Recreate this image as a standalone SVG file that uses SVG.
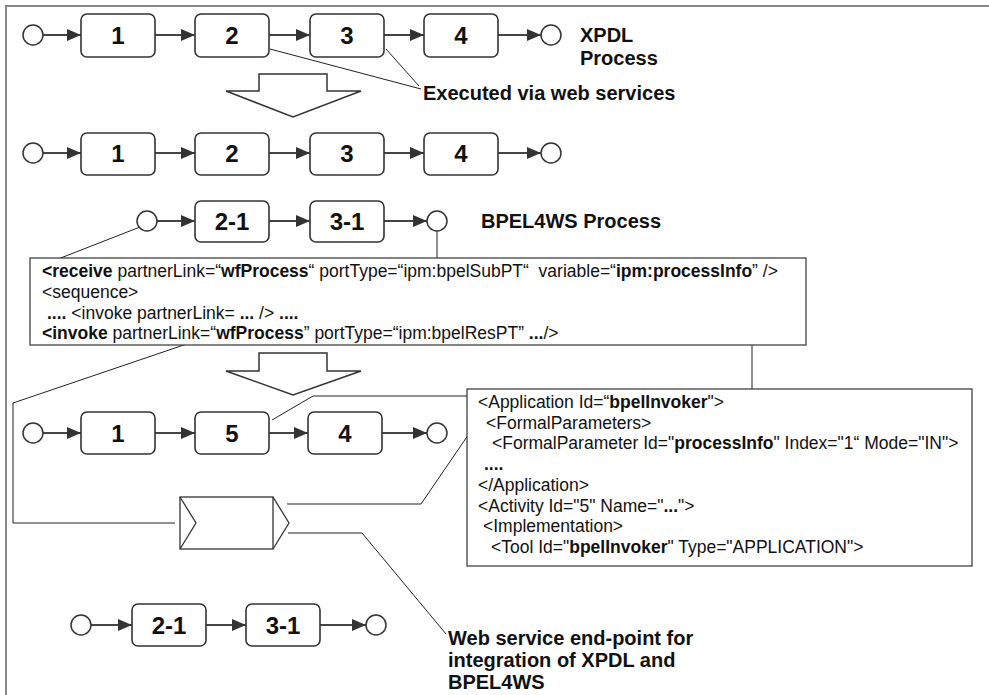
<svg xmlns="http://www.w3.org/2000/svg" width="989" height="695" viewBox="0 0 989 695">
<style>
.box{fill:#fff;stroke:#333;stroke-width:1.6}
.circ{fill:#fff;stroke:#333;stroke-width:1.5}
.flow{stroke:#444;stroke-width:2.2;fill:none}
.call{stroke:#222;stroke-width:1;fill:none}
.hollow{fill:#fff;stroke:#333;stroke-width:1.5}
.lbl{font-family:"Liberation Sans",Arial,sans-serif;font-weight:bold;font-size:24px;fill:#111;text-anchor:middle}
.head{font-family:"Liberation Sans",Arial,sans-serif;font-weight:bold;font-size:20px;fill:#111}
.code{font-family:"Liberation Sans",Arial,sans-serif;font-size:17.5px;fill:#111;white-space:pre}
.b{font-weight:bold}
.frame{stroke:#888;stroke-width:2;fill:none}
.cbox{fill:#fff;stroke:#333;stroke-width:1.2}
</style>
<defs>
<marker id="ah" viewBox="0 0 14 12" refX="14" refY="6" markerWidth="14" markerHeight="12" markerUnits="userSpaceOnUse" orient="auto">
<path d="M0,0 L14,6 L0,12 z" fill="#333"/>
</marker>
</defs>
<rect width="989" height="695" fill="#fff"/>
<path class="frame" d="M989,6 H6 V695"/>

<g id="connectors">
<path class="flow" marker-end="url(#ah)" d="M43,35 H81"/>
<path class="flow" marker-end="url(#ah)" d="M155,35 H195"/>
<path class="flow" marker-end="url(#ah)" d="M269,35 H310"/>
<path class="flow" marker-end="url(#ah)" d="M384,35 H424"/>
<path class="flow" marker-end="url(#ah)" d="M498,35 H541"/>
<path class="flow" marker-end="url(#ah)" d="M43,153 H81"/>
<path class="flow" marker-end="url(#ah)" d="M155,153 H195"/>
<path class="flow" marker-end="url(#ah)" d="M269,153 H310"/>
<path class="flow" marker-end="url(#ah)" d="M384,153 H424"/>
<path class="flow" marker-end="url(#ah)" d="M498,153 H541"/>
<path class="flow" marker-end="url(#ah)" d="M157,221 H195"/>
<path class="flow" marker-end="url(#ah)" d="M269,221 H310"/>
<path class="flow" marker-end="url(#ah)" d="M384,221 H427"/>
<path class="flow" marker-end="url(#ah)" d="M43,433 H81"/>
<path class="flow" marker-end="url(#ah)" d="M155,433 H195"/>
<path class="flow" marker-end="url(#ah)" d="M269,433 H308"/>
<path class="flow" marker-end="url(#ah)" d="M382,433 H427"/>
<path class="flow" marker-end="url(#ah)" d="M91,625 H132"/>
<path class="flow" marker-end="url(#ah)" d="M206,625 H246"/>
<path class="flow" marker-end="url(#ah)" d="M320,625 H366"/>
<path class="call" d="M270,49 L421,89"/>
<path class="call" d="M386,49 L419,86"/>
<path class="call" d="M140,227 L53,261"/>
<path class="call" d="M437,231 V333 L433,336"/>
<path class="call" d="M752,283 V443 L745,445"/>
<path class="call" d="M225,331 L13,403 V523 H175"/>
<path class="call" d="M272,420 L313,396 H467"/>
<path class="call" d="M287,504 H421 L488,406"/>
<path class="call" d="M288,533 H362 L446,634"/>
</g>

<g id="arrow-down-1"><polygon class="hollow" points="259,74 327,74 327,91 361,91 293,117 226,91 259,91"/></g>
<g id="arrow-down-2"><polygon class="hollow" points="259,353 327,353 327,371 361,371 293,395 226,371 259,371"/></g>

<g id="r1-start"><circle class="circ" cx="33" cy="35" r="10"/></g>
<g id="r1-n1"><rect class="box" x="81" y="14" width="74" height="43" rx="6"/><text class="lbl" x="118" y="44">1</text></g>
<g id="r1-n2"><rect class="box" x="195" y="14" width="74" height="43" rx="6"/><text class="lbl" x="232" y="44">2</text></g>
<g id="r1-n3"><rect class="box" x="310" y="14" width="74" height="43" rx="6"/><text class="lbl" x="347" y="44">3</text></g>
<g id="r1-n4"><rect class="box" x="424" y="14" width="74" height="43" rx="6"/><text class="lbl" x="461" y="44">4</text></g>
<g id="r1-end"><circle class="circ" cx="551" cy="35" r="10"/></g>
<g id="lbl-xpdl"><text class="head" x="580" y="42">XPDL</text><text class="head" x="580" y="65">Process</text></g>
<g id="lbl-executed"><text class="head" x="423" y="100">Executed via web services</text></g>

<g id="r2-start"><circle class="circ" cx="33" cy="153" r="10"/></g>
<g id="r2-n1"><rect class="box" x="81" y="133" width="74" height="42" rx="6"/><text class="lbl" x="118" y="162">1</text></g>
<g id="r2-n2"><rect class="box" x="195" y="133" width="74" height="42" rx="6"/><text class="lbl" x="232" y="162">2</text></g>
<g id="r2-n3"><rect class="box" x="310" y="133" width="74" height="42" rx="6"/><text class="lbl" x="347" y="162">3</text></g>
<g id="r2-n4"><rect class="box" x="424" y="133" width="74" height="42" rx="6"/><text class="lbl" x="461" y="162">4</text></g>
<g id="r2-end"><circle class="circ" cx="551" cy="153" r="10"/></g>

<g id="r3-start"><circle class="circ" cx="147" cy="221" r="10"/></g>
<g id="r3-n21"><rect class="box" x="195" y="201" width="74" height="41" rx="6"/><text class="lbl" x="232" y="230">2-1</text></g>
<g id="r3-n31"><rect class="box" x="310" y="201" width="74" height="41" rx="6"/><text class="lbl" x="347" y="230">3-1</text></g>
<g id="r3-end"><circle class="circ" cx="437" cy="221" r="10"/></g>
<g id="lbl-bpel"><text class="head" x="481" y="228">BPEL4WS Process</text></g>

<g id="bpel-code">
<rect class="cbox" x="30" y="258" width="776" height="87"/>
<text class="code" x="42" y="277"><tspan class="b">&lt;receive</tspan> partnerLink=“<tspan class="b">wfProcess</tspan>“ portType=“ipm:bpelSubPT“  variable=“<tspan class="b">ipm:processInfo</tspan>” /&gt;</text>
<text class="code" x="42" y="298">&lt;sequence&gt;</text>
<text class="code" x="47" y="319"><tspan class="b">....</tspan> &lt;invoke partnerLink= <tspan class="b">...</tspan> /&gt; <tspan class="b">....</tspan></text>
<text class="code" x="42" y="339"><tspan class="b">&lt;invoke</tspan> partnerLink=“<tspan class="b">wfProcess</tspan>” portType=“ipm:bpelResPT” <tspan class="b">...</tspan>/&gt;</text>
</g>

<g id="r4-start"><circle class="circ" cx="33" cy="433" r="10"/></g>
<g id="r4-n1"><rect class="box" x="81" y="412" width="74" height="42" rx="6"/><text class="lbl" x="118" y="442">1</text></g>
<g id="r4-n5"><rect class="box" x="195" y="412" width="74" height="42" rx="6"/><text class="lbl" x="232" y="442">5</text></g>
<g id="r4-n4"><rect class="box" x="308" y="412" width="74" height="42" rx="6"/><text class="lbl" x="345" y="442">4</text></g>
<g id="r4-end"><circle class="circ" cx="437" cy="433" r="10"/></g>

<g id="xpdl-code">
<rect class="cbox" x="467" y="389" width="505" height="177"/>
<text class="code" x="478" y="408">&lt;Application Id=“<tspan class="b">bpelInvoker</tspan>"&gt;</text>
<text class="code" x="486" y="428.7">&lt;FormalParameters&gt;</text>
<text class="code" x="492" y="449.4">&lt;FormalParameter Id="<tspan class="b">processInfo</tspan>" Index="1“ Mode="IN"&gt;</text>
<text class="code b" x="484" y="470.1">....</text>
<text class="code" x="478" y="490.8">&lt;/Application&gt;</text>
<text class="code" x="478" y="511.5">&lt;Activity Id="5" Name="<tspan class="b">...</tspan>"&gt;</text>
<text class="code" x="483" y="532.2">&lt;Implementation&gt;</text>
<text class="code" x="491" y="552.9">&lt;Tool Id="<tspan class="b">bpelInvoker</tspan>" Type="APPLICATION"&gt;</text>
</g>

<g id="ws-endpoint">
<rect x="180" y="497" width="93" height="52" fill="#fff" stroke="#333" stroke-width="1.3"/>
<polyline points="180,497 196,523 180,549" fill="none" stroke="#333" stroke-width="1.3"/>
<polyline points="273,497 289,523 273,549" fill="none" stroke="#333" stroke-width="1.3"/>
</g>

<g id="r5-start"><circle class="circ" cx="81" cy="625" r="10"/></g>
<g id="r5-n21"><rect class="box" x="132" y="604" width="74" height="42" rx="6"/><text class="lbl" x="169" y="634">2-1</text></g>
<g id="r5-n31"><rect class="box" x="246" y="604" width="74" height="42" rx="6"/><text class="lbl" x="283" y="634">3-1</text></g>
<g id="r5-end"><circle class="circ" cx="376" cy="625" r="10"/></g>

<g id="lbl-ws"><text class="head" x="448" y="645">Web service end-point for</text><text class="head" x="448" y="667">integration of XPDL and</text><text class="head" x="448" y="689">BPEL4WS</text></g>
</svg>
